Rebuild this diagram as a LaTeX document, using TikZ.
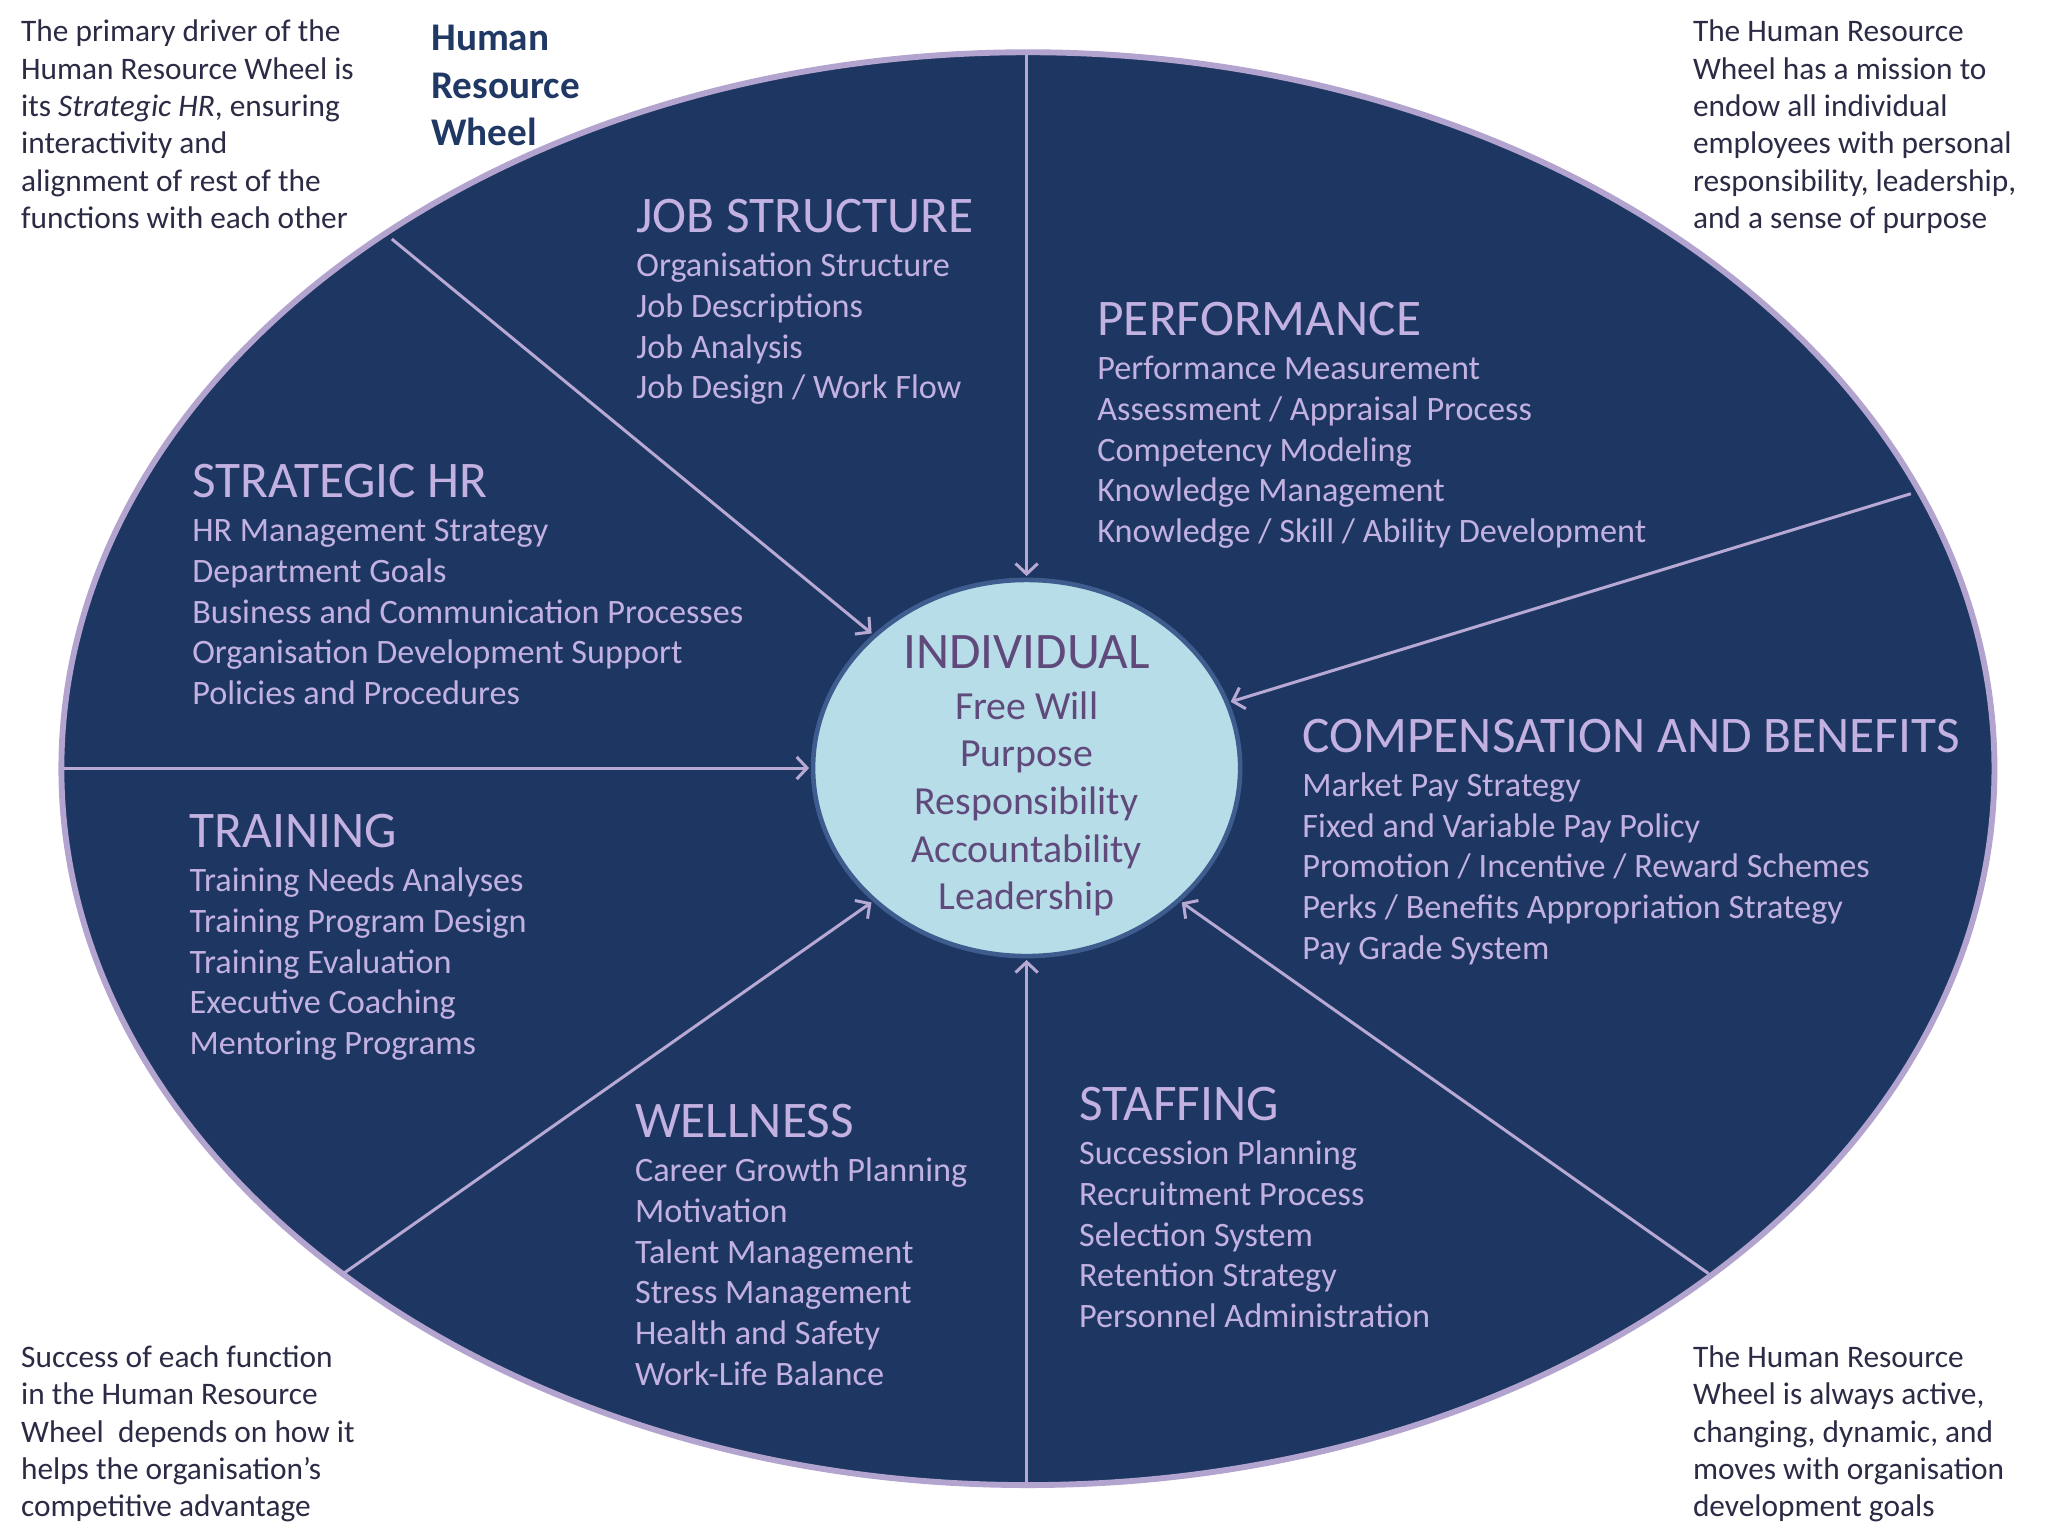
\documentclass[tikz,border=0pt]{standalone}
\usepackage{fontspec}
\setmainfont{Carlito}
\usetikzlibrary{arrows.meta,shapes.geometric}
\definecolor{navy}{HTML}{1D3762}
\definecolor{lav}{HTML}{C3B1E1}
\definecolor{lavline}{HTML}{B8A9D4}
\definecolor{lavborder}{HTML}{B3A4CF}
\definecolor{innerfill}{HTML}{B7DDE8}
\definecolor{innerborder}{HTML}{3E5C8E}
\definecolor{innertxt}{HTML}{604A7B}
\definecolor{cornertxt}{HTML}{2B2B45}
\definecolor{titletxt}{HTML}{1F3864}
\newcommand\itemlist[1]{\begin{tabular}[t]{@{}l@{}}#1\end{tabular}}
\newcommand\ctrlist[1]{\begin{tabular}[t]{@{}c@{}}#1\end{tabular}}
\tikzset{
  head/.style={anchor=base west, inner sep=0pt, font=\fontsize{39.3}{45}\selectfont, text=lav},
  items/.style={anchor=base west, inner sep=0pt, font=\fontsize{26.2}{31.2}\selectfont, text=lav},
  corner/.style={anchor=base west, inner sep=0pt, font=\fontsize{24}{28.6}\selectfont, text=cornertxt},
  spoke/.style={draw=lavline, line width=2.3pt, -{Straight Barb[length=8pt,width=17pt,line width=2.3pt]}, shorten >=3pt},
}
\begin{document}
\begin{tikzpicture}[x=1pt,y=-1pt]
\useasboundingbox (0,0) rectangle (1568,1176);
\fill[white] (0,0) rectangle (1568,1176);
% outer wheel
\node[ellipse, draw=lavborder, fill=navy, line width=4.5pt, minimum width=1480pt, minimum height=1097pt, inner sep=0pt] (wheel) at (787,588.5) {};
% inner ellipse
\node[ellipse, draw=innerborder, fill=innerfill, line width=3.5pt, minimum width=327pt, minimum height=288pt, inner sep=0pt, outer sep=0pt] (ind) at (786,588) {};
% spoke start points
\coordinate (s1) at (786,42);
\coordinate (s2) at (300,183);
\coordinate (s3) at (49,588);
\coordinate (s4) at (263,975);
\coordinate (s5) at (786,1135);
\coordinate (s6) at (1308,975);
\coordinate (s7) at (1463,378);
\draw[spoke] (s1) -- (ind.90);
\draw[spoke] (s2) -- (ind.139);
\draw[spoke] (s3) -- (ind.180);
\draw[spoke] (s4) -- (ind.221);
\draw[spoke] (s5) -- (ind.270);
\draw[spoke] (s6) -- (ind.319);
\draw[spoke] (s7) -- (ind.18.6);
% center text
\node[anchor=base, inner sep=0pt, font=\fontsize{39.2}{45}\selectfont, text=innertxt] (indtitle) at (786,512) {INDIVIDUAL};
\node[anchor=base, inner sep=0pt, font=\fontsize{30.5}{36.5}\selectfont, text=innertxt] (indlist) at (786,550.5)
  {\ctrlist{Free Will\\Purpose\\Responsibility\\Accountability\\Leadership}};
% sections
\node[head] (jobh) at (487,178) {JOB STRUCTURE};
\node[items] (jobl) at (487,211.7) {\itemlist{Organisation Structure\\Job Descriptions\\Job Analysis\\Job Design / Work Flow}};
\node[head] (perfh) at (840,257) {PERFORMANCE};
\node[items] (perfl) at (840,290.7) {\itemlist{Performance Measurement\\Assessment / Appraisal Process\\Competency Modeling\\Knowledge Management\\Knowledge / Skill / Ability Development}};
\node[head] (strath) at (147,381) {STRATEGIC HR};
\node[items] (stratl) at (147,414.7) {\itemlist{HR Management Strategy\\Department Goals\\Business and Communication Processes\\Organisation Development Support\\Policies and Procedures}};
\node[head] (trainh) at (145,649) {TRAINING};
\node[items] (trainl) at (145,682.7) {\itemlist{Training Needs Analyses\\Training Program Design\\Training Evaluation\\Executive Coaching\\Mentoring Programs}};
\node[head] (wellh) at (486,871) {WELLNESS};
\node[items] (welll) at (486,904.7) {\itemlist{Career Growth Planning\\Motivation\\Talent Management\\Stress Management\\Health and Safety\\Work-Life Balance}};
\node[head] (staffh) at (826,858) {STAFFING};
\node[items] (staffl) at (826,891.7) {\itemlist{Succession Planning\\Recruitment Process\\Selection System\\Retention Strategy\\Personnel Administration}};
\node[head] (comph) at (997,576) {COMPENSATION AND BENEFITS};
\node[items] (compl) at (997,609.7) {\itemlist{Market Pay Strategy\\Fixed and Variable Pay Policy\\Promotion / Incentive / Reward Schemes\\Perks / Benefits Appropriation Strategy\\Pay Grade System}};
% title
\node[anchor=base west, inner sep=0pt, font=\bfseries\fontsize{30}{36.3}\selectfont, text=titletxt] (title) at (330,39)
  {\itemlist{Human\\Resource\\Wheel}};
% corner notes
\node[corner] (tl) at (16,32) {\itemlist{The primary driver of the\\Human Resource Wheel is\\its \textit{Strategic HR}, ensuring\\interactivity and\\alignment of rest of the\\functions with each other}};
\node[corner] (tr) at (1296,32) {\itemlist{The Human Resource\\Wheel has a mission to\\endow all individual\\employees with personal\\responsibility, leadership,\\and a sense of purpose}};
\node[corner] (bl) at (16,1047) {\itemlist{Success of each function\\in the Human Resource\\Wheel\ \ depends on how it\\helps the organisation’s\\competitive advantage}};
\node[corner] (br) at (1296,1047) {\itemlist{The Human Resource\\Wheel is always active,\\changing, dynamic, and\\moves with organisation\\development goals}};
\end{tikzpicture}
\end{document}
